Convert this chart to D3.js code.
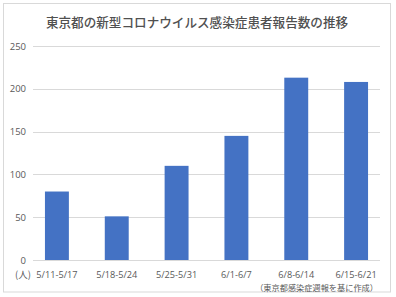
<!DOCTYPE html>
<meta charset="utf-8" />
<script src="https://d3js.org/d3.v7.min.js"></script>
<body style="margin:0;background:#fff">
<svg id="chart" width="396" height="297" style="display:block"></svg>
<script>
/* data ------------------------------------------------------------------ */
const title="東京都の新型コロナウイルス感染症患者報告数の推移";
const weeks=["5/11-5/17","5/18-5/24","5/25-5/31","6/1-6/7","6/8-6/14","6/15-6/21"];
const cases=[80,51,110,145,213,208];
const yTicks=[0,50,100,150,200,250];
const unitLabel="(人)";
const sourceNote="（東京都感染症週報を基に作成）";

/* layout ---------------------------------------------------------------- */
const txt="#595959",
      font="'Noto Sans CJK JP','Open Sans',sans-serif";
const svg=d3.select("#chart");

svg.append("rect").attr("x",3.5).attr("y",3.5).attr("width",387).attr("height",288.5)
   .attr("fill","#fff").attr("stroke","#d9d9d9");

svg.append("text").attr("x",197).attr("y",26.5).attr("text-anchor","middle")
   .attr("font-family",font).attr("font-size","12.6px").attr("font-weight",500)
   .attr("fill","#505050").text(title);

const x=d3.scaleBand().domain(weeks).range([27,386]).paddingInner(0.6).paddingOuter(0.3);
const y=d3.scaleLinear().domain([0,250]).range([260,46]);

/* gridlines + y labels */
const grid=svg.append("g");
grid.selectAll("line").data(yTicks).join("line")
   .attr("x1",33).attr("x2",380)
   .attr("y1",d=>Math.round(y(d))+0.5).attr("y2",d=>Math.round(y(d))+0.5)
   .attr("stroke","#d9d9d9").attr("stroke-width",1);
grid.selectAll("text").data(yTicks).join("text")
   .attr("x",26).attr("y",d=>y(d)+3.5).attr("text-anchor","end")
   .attr("font-family","'Open Sans',sans-serif").attr("font-size","9.5px").attr("fill",txt)
   .text(d=>d);

/* bars */
svg.append("g").selectAll("rect").data(cases).join("rect")
   .attr("x",(d,i)=>x(weeks[i])).attr("width",x.bandwidth())
   .attr("y",d=>y(d)).attr("height",d=>y(0)-y(d))
   .attr("fill","#4472c4");

/* x labels */
svg.append("g").selectAll("text").data(weeks).join("text")
   .attr("x",d=>x(d)+x.bandwidth()/2).attr("y",277.5).attr("text-anchor","middle")
   .attr("font-family","'Open Sans',sans-serif").attr("font-size","9.2px").attr("fill",txt)
   .text(d=>d);

svg.append("text").attr("x",15).attr("y",277.5)
   .attr("font-family",font).attr("font-size","9.5px").attr("fill",txt).text(unitLabel);

svg.append("text").attr("x",378).attr("y",290.5).attr("text-anchor","end")
   .attr("font-family",font).attr("font-size","8.2px").attr("fill",txt).text(sourceNote);
</script>
</body>
